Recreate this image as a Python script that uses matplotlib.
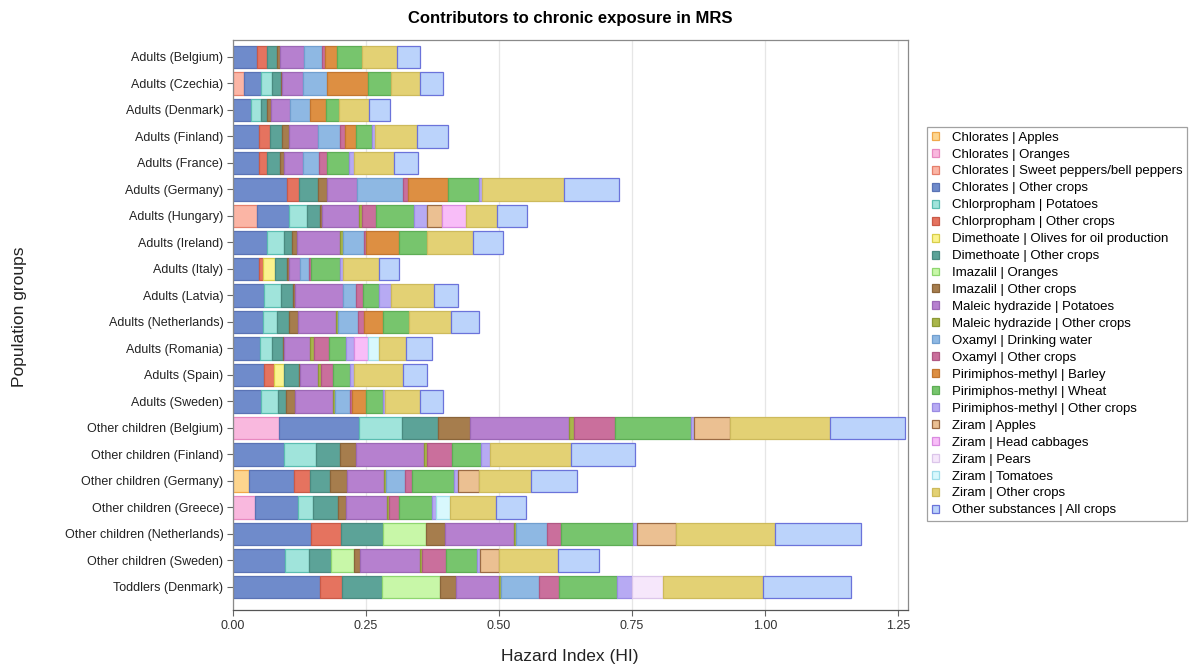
import matplotlib
matplotlib.use("Agg")
import matplotlib.pyplot as plt
from matplotlib.patches import Patch
import numpy as np

plt.rcParams['font.family'] = ['Liberation Sans', 'DejaVu Sans']

# Population groups (top to bottom)
groups = [
    "Adults (Belgium)", "Adults (Czechia)", "Adults (Denmark)", "Adults (Finland)",
    "Adults (France)", "Adults (Germany)", "Adults (Hungary)", "Adults (Ireland)",
    "Adults (Italy)", "Adults (Latvia)", "Adults (Netherlands)", "Adults (Romania)",
    "Adults (Spain)", "Adults (Sweden)", "Other children (Belgium)",
    "Other children (Finland)", "Other children (Germany)", "Other children (Greece)",
    "Other children (Netherlands)", "Other children (Sweden)", "Toddlers (Denmark)",
]

series_labels = [
    "Chlorates | Apples", "Chlorates | Oranges", "Chlorates | Sweet peppers/bell peppers",
    "Chlorates | Other crops", "Chlorpropham | Potatoes", "Chlorpropham | Other crops",
    "Dimethoate | Olives for oil production", "Dimethoate | Other crops",
    "Imazalil | Oranges", "Imazalil | Other crops", "Maleic hydrazide | Potatoes",
    "Maleic hydrazide | Other crops", "Oxamyl | Drinking water", "Oxamyl | Other crops",
    "Pirimiphos-methyl | Barley", "Pirimiphos-methyl | Wheat",
    "Pirimiphos-methyl | Other crops", "Ziram | Apples", "Ziram | Head cabbages",
    "Ziram | Pears", "Ziram | Tomatoes", "Ziram | Other crops",
    "Other substances | All crops",
]

# Hazard index contributions, one value per population group
chlorates_apples = [0, 0, 0, 0, 0, 0, 0, 0, 0, 0, 0, 0, 0, 0, 0, 0, 0.030, 0, 0, 0, 0]
chlorates_oranges = [0, 0, 0, 0, 0, 0, 0, 0, 0, 0, 0, 0, 0, 0, 0.0865, 0, 0, 0.041, 0, 0, 0]
chlorates_peppers = [0, 0.020, 0, 0, 0, 0, 0.046, 0, 0, 0, 0, 0, 0, 0, 0, 0, 0, 0, 0, 0, 0]
chlorates_other = [0.046, 0.033, 0.034, 0.049, 0.049, 0.1015, 0.060, 0.064, 0.049, 0.058,
                   0.0565, 0.0515, 0.0577, 0.0535, 0.1504, 0.0953, 0.084, 0.0815, 0.147,
                   0.097, 0.164]
chlorpropham_potatoes = [0, 0.020, 0.019, 0, 0, 0, 0.034, 0.0315, 0, 0.033, 0.027, 0.022,
                         0, 0.031, 0.0815, 0.060, 0, 0.028, 0, 0.045, 0]
chlorpropham_other = [0.018, 0, 0, 0.020, 0.015, 0.0225, 0, 0, 0.0075, 0, 0, 0, 0.019, 0,
                      0, 0, 0.0313, 0, 0.0564, 0, 0.0413]
dimethoate_olives = [0, 0, 0, 0, 0, 0, 0, 0, 0.0225, 0, 0, 0, 0.0195, 0, 0, 0, 0, 0, 0, 0, 0]
dimethoate_other = [0.019, 0.0163, 0.011, 0.024, 0.024, 0.036, 0.024, 0.0145, 0.022, 0.022,
                    0.021, 0.0207, 0.0275, 0.0145, 0.067, 0.045, 0.0376, 0.047, 0.078,
                    0.0426, 0.075]
imazalil_oranges = [0, 0, 0, 0, 0, 0, 0, 0, 0, 0, 0, 0, 0, 0, 0, 0, 0, 0, 0.0816, 0.042, 0.109]
imazalil_other = [0.006, 0.003, 0.008, 0.0125, 0.008, 0.017, 0.003, 0.0105, 0.005, 0.004,
                  0.0175, 0.002, 0.003, 0.017, 0.061, 0.0313, 0.032, 0.0145, 0.036, 0.0113,
                  0.030]
maleic_potatoes = [0.045, 0.040, 0.036, 0.0545, 0.036, 0.056, 0.069, 0.0815, 0.020, 0.090,
                   0.072, 0.048, 0.033, 0.072, 0.185, 0.128, 0.068, 0.0776, 0.1297, 0.114,
                   0.080]
maleic_other = [0, 0, 0, 0, 0, 0, 0.006, 0.004, 0, 0, 0.004, 0.0075, 0.006, 0.004, 0.009,
                0.006, 0.004, 0.004, 0.003, 0.004, 0.0045]
oxamyl_water = [0.033, 0.044, 0.036, 0.042, 0.030, 0.0865, 0, 0.041, 0.016, 0.024, 0.037,
                0, 0, 0.028, 0, 0, 0.0357, 0, 0.0594, 0, 0.072]
oxamyl_other = [0.006, 0, 0, 0.008, 0.014, 0.009, 0.027, 0.0025, 0.0045, 0.014, 0.0107,
                0.029, 0.022, 0.0045, 0.077, 0.046, 0.0145, 0.019, 0.025, 0.044, 0.0376]
pirimiphos_barley = [0.023, 0.0767, 0.031, 0.022, 0, 0.075, 0, 0.0625, 0, 0, 0.036, 0, 0,
                     0.025, 0, 0, 0, 0, 0, 0, 0]
pirimiphos_wheat = [0.046, 0.044, 0.025, 0.030, 0.0425, 0.0597, 0.072, 0.053, 0.0545,
                    0.030, 0.050, 0.031, 0.0325, 0.0325, 0.144, 0.0545, 0.0776, 0.061,
                    0.136, 0.059, 0.1085]
pirimiphos_other = [0, 0, 0, 0.0045, 0.0095, 0.005, 0.0235, 0, 0.005, 0.0215, 0, 0.015,
                    0.008, 0.003, 0.006, 0.017, 0.008, 0.008, 0.007, 0.006, 0.028]
ziram_apples = [0, 0, 0, 0, 0, 0, 0.029, 0, 0, 0, 0, 0, 0, 0, 0.066, 0, 0.0395, 0, 0.0744,
                0.035, 0]
ziram_cabbages = [0, 0, 0, 0, 0, 0, 0.0445, 0, 0, 0, 0, 0.027, 0, 0, 0, 0, 0, 0, 0, 0, 0]
ziram_pears = [0, 0, 0, 0, 0, 0, 0, 0, 0, 0, 0, 0, 0, 0, 0, 0, 0, 0, 0, 0, 0.0575]
ziram_tomatoes = [0, 0, 0, 0, 0, 0, 0, 0, 0, 0, 0, 0.020, 0, 0, 0, 0, 0, 0.026, 0, 0, 0]
ziram_other = [0.066, 0.055, 0.056, 0.0795, 0.0745, 0.1535, 0.0575, 0.087, 0.068, 0.082,
               0.078, 0.052, 0.091, 0.066, 0.189, 0.152, 0.0985, 0.086, 0.1846, 0.111, 0.188]
other_substances = [0.044, 0.042, 0.040, 0.059, 0.045, 0.1035, 0.0565, 0.055, 0.0385,
                    0.045, 0.053, 0.049, 0.046, 0.044, 0.140, 0.121, 0.0857, 0.058, 0.163,
                    0.077, 0.166]

x_ticks = [0.0, 0.25, 0.5, 0.75, 1.0, 1.25]

values = [
    chlorates_apples, chlorates_oranges, chlorates_peppers, chlorates_other,
    chlorpropham_potatoes, chlorpropham_other, dimethoate_olives, dimethoate_other,
    imazalil_oranges, imazalil_other, maleic_potatoes, maleic_other, oxamyl_water,
    oxamyl_other, pirimiphos_barley, pirimiphos_wheat, pirimiphos_other, ziram_apples,
    ziram_cabbages, ziram_pears, ziram_tomatoes, ziram_other, other_substances,
]

fills = ['#FDD58E', '#F9B8DE', '#FBB5A5', '#6F8BCB', '#A0E4DB', '#E5735F', '#FBF38E',
         '#5CA398', '#C8F7A8', '#A67D4D', '#B680CF', '#A9B64A', '#8EB8E3', '#CA6F9C',
         '#DD8F42', '#77C56D', '#B7AAF3', '#EBC092', '#F8BDF8', '#F6E7FB', '#D8F8FD',
         '#E3D174', '#BBD3FB']
edges = ['#F0A84A', '#E889C0', '#E57F6C', '#5A73B5', '#5BBDB1', '#C95A48', '#D8CE4A',
         '#4A8A80', '#8FD670', '#8A653A', '#9C68B6', '#8C9936', '#719FCF', '#B05884',
         '#C27630', '#5EAD55', '#9A8BE3', '#9B6B44', '#D98BE0', '#DCC6EA', '#9FDDEA',
         '#CDBA5C', '#6B73DA']

W, H = 1203, 668
fig = plt.figure(figsize=(W / 100, H / 100), dpi=100)
ax = fig.add_axes([233 / W, 1 - 610 / H, 675 / W, 570 / H])

y = np.arange(len(groups))
left = np.zeros(len(groups))
for vals, fc, ec in zip(values, fills, edges):
    v = np.asarray(vals, dtype=float)
    m = v > 0
    ax.barh(y[m], v[m], left=left[m], height=0.86, color=fc, edgecolor=ec,
            linewidth=0.9, zorder=2)
    left += v

ax.set_xlim(0, 1.2688)
ax.set_ylim(len(groups) - 1 + 0.87, -0.64)
ax.set_xticks(x_ticks)
ax.set_xticklabels([f"{t:.2f}" for t in x_ticks], fontsize=9, color='#333333')
ax.set_yticks(y)
ax.set_yticklabels(groups, fontsize=9, color='#222222')
ax.tick_params(axis='both', direction='out', length=4, color='#666666', pad=3)
ax.xaxis.grid(True, color='#E6E6E6', linewidth=0.9)
ax.set_axisbelow(True)
for s in ax.spines.values():
    s.set_color('#8A8A8A')
    s.set_linewidth(0.9)
ax.spines['bottom'].set_color('#555555')

fig.text(570 / W, 1 - 18 / H, "Contributors to chronic exposure in MRS",
         ha='center', va='center', fontsize=12, fontweight='bold')
fig.text(570 / W, 1 - 656 / H, "Hazard Index (HI)", ha='center', va='center',
         fontsize=12.5, color='#222222')
fig.text(20 / W, 1 - 317 / H, "Population groups", ha='center', va='center',
         rotation=90, fontsize=12.5, color='#222222')

handles = [Patch(facecolor=fc, edgecolor=ec, linewidth=0.9) for fc, ec in zip(fills, edges)]
leg = fig.legend(handles, series_labels, loc='center left',
                 bbox_to_anchor=(927 / W, 1 - 324 / H), fontsize=9.5, frameon=True,
                 fancybox=False, edgecolor='#8A8A8A', handlelength=0.55, handleheight=0.55,
                 handletextpad=1.0, labelspacing=0.375, borderpad=0.35, borderaxespad=0)
leg.get_frame().set_linewidth(0.9)

fig.savefig("out.png", dpi=100)
